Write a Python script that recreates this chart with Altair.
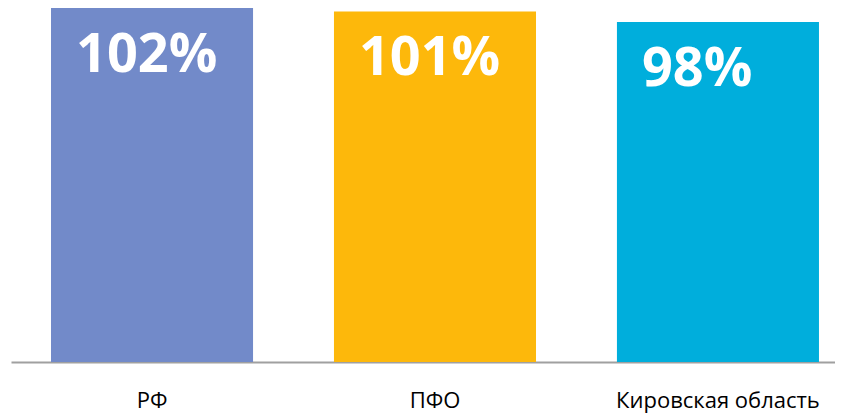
import altair as alt
import pandas as pd

categories = ["РФ", "ПФО", "Кировская область"]
values = [102, 101, 98]
labels = ["102%", "101%", "98%"]
colors = ["#728AC9", "#FDB80B", "#00AEDC"]

df = pd.DataFrame({"cat": categories, "val": values, "lab": labels, "col": colors})

x = alt.X("cat:N", sort=categories, title=None,
          scale=alt.Scale(paddingInner=0.286, paddingOuter=0.099, align=0.714),
          axis=alt.Axis(labelAngle=0, ticks=False, domainColor="#A0A0A0", domainWidth=2,
                        labelFont="Open Sans", labelFontSize=22, labelColor="#000000",
                        labelPadding=28, labelLimit=0, grid=False))
y = alt.Y("val:Q", scale=alt.Scale(domain=[0, 102], nice=False, zero=True), axis=None)

bars = alt.Chart(df).mark_bar().encode(
    x=x, y=y, color=alt.Color("col:N", scale=None, legend=None)
)
text = alt.Chart(df).mark_text(
    align="left", baseline="middle", dx=-76, dy=48, color="white",
    font="Open Sans", fontWeight="bold", fontSize=54
).encode(x=alt.X("cat:N", sort=categories), y="val:Q", text="lab:N")

chart = (bars + text).properties(
    width=824, height=354,
    padding={"left": 3, "top": 0, "right": 0, "bottom": 3}
).configure_view(stroke=None)

chart.save("out.html", embed_options={"renderer": "svg", "actions": False})
